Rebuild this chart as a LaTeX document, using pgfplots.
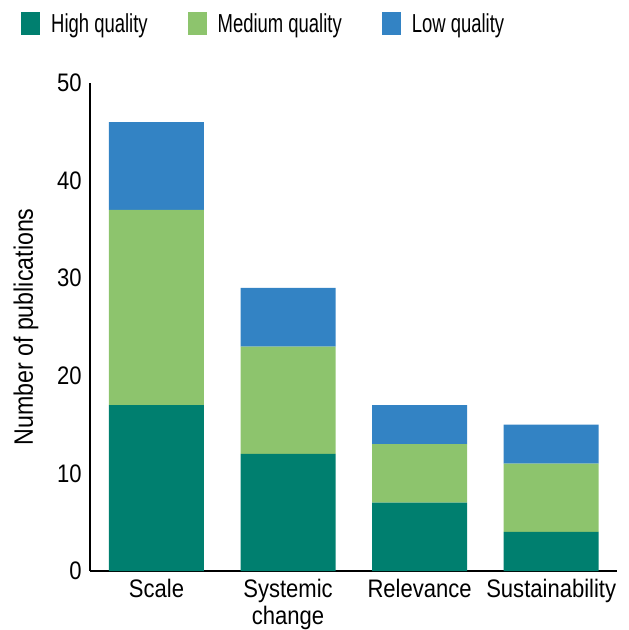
\documentclass[border=0pt]{standalone}
\usepackage{fontspec}
\setmainfont[FakeStretch=0.87]{Liberation Sans}
\newfontfamily\legfont[FakeStretch=0.71]{Liberation Sans}
\usepackage{pgfplots}
\pgfplotsset{compat=1.18}

\definecolor{highq}{HTML}{007F6F}
\definecolor{medq}{HTML}{8DC46D}
\definecolor{lowq}{HTML}{3383C4}

\begin{document}
\begin{tikzpicture}
% canvas of 628x630 px at 0.75pt per px, axis lower-left at px (90,571)
\useasboundingbox (-67.5pt,-44.25pt) rectangle (403.5pt,428.25pt);
\begin{axis}[
    at={(0pt,0pt)}, anchor=south west,
    scale only axis,
    width=395.25pt, height=366pt,
    ybar stacked,
    bar width=71.25pt,
    xmin=-0.505, xmax=3.5,
    ymin=0, ymax=50,
    xtick={0,1,2,3},
    xticklabels={Scale,{Systemic\\change},Relevance,Sustainability},
    ytick={0,10,20,30,40,50},
    major tick length=0pt,
    axis x line*=bottom,
    axis y line*=left,
    axis line style={line width=0.8pt},
    /pgf/number format/assume math mode=true,
    every tick label/.append style={font=\fontsize{19}{20}\selectfont},
    yticklabel style={inner xsep=0pt, xshift=-6pt},
    xticklabel style={align=center, inner ysep=0pt, yshift=-6pt},
    ylabel={Number of publications},
    every axis y label/.style={at={(axis description cs:-0.1215,0.5)},
        rotate=90, anchor=center, font=\fontsize{20}{21}\selectfont},
    legend columns=3,
    legend style={draw=none, fill=none, inner sep=0pt,
        at={(axis description cs:-0.131,1.121)}, anchor=west,
        font=\legfont\fontsize{19.5}{20}\selectfont,
        nodes={inner xsep=0pt, inner ysep=2pt},
        /tikz/every even column/.append style={column sep=30pt}},
    legend image code/.code={
        \fill[#1] (0pt,-8.6pt) rectangle (14.25pt,8.6pt);
        \path (22.5pt,0pt);
    },
]
\addplot[fill=highq, draw=none] coordinates {(0,17) (1,12) (2,7) (3,4)};
\addplot[fill=medq, draw=none] coordinates {(0,20) (1,11) (2,6) (3,7)};
\addplot[fill=lowq, draw=none] coordinates {(0,9) (1,6) (2,4) (3,4)};
\legend{High quality, Medium quality, Low quality}
\end{axis}
\end{tikzpicture}
\end{document}
